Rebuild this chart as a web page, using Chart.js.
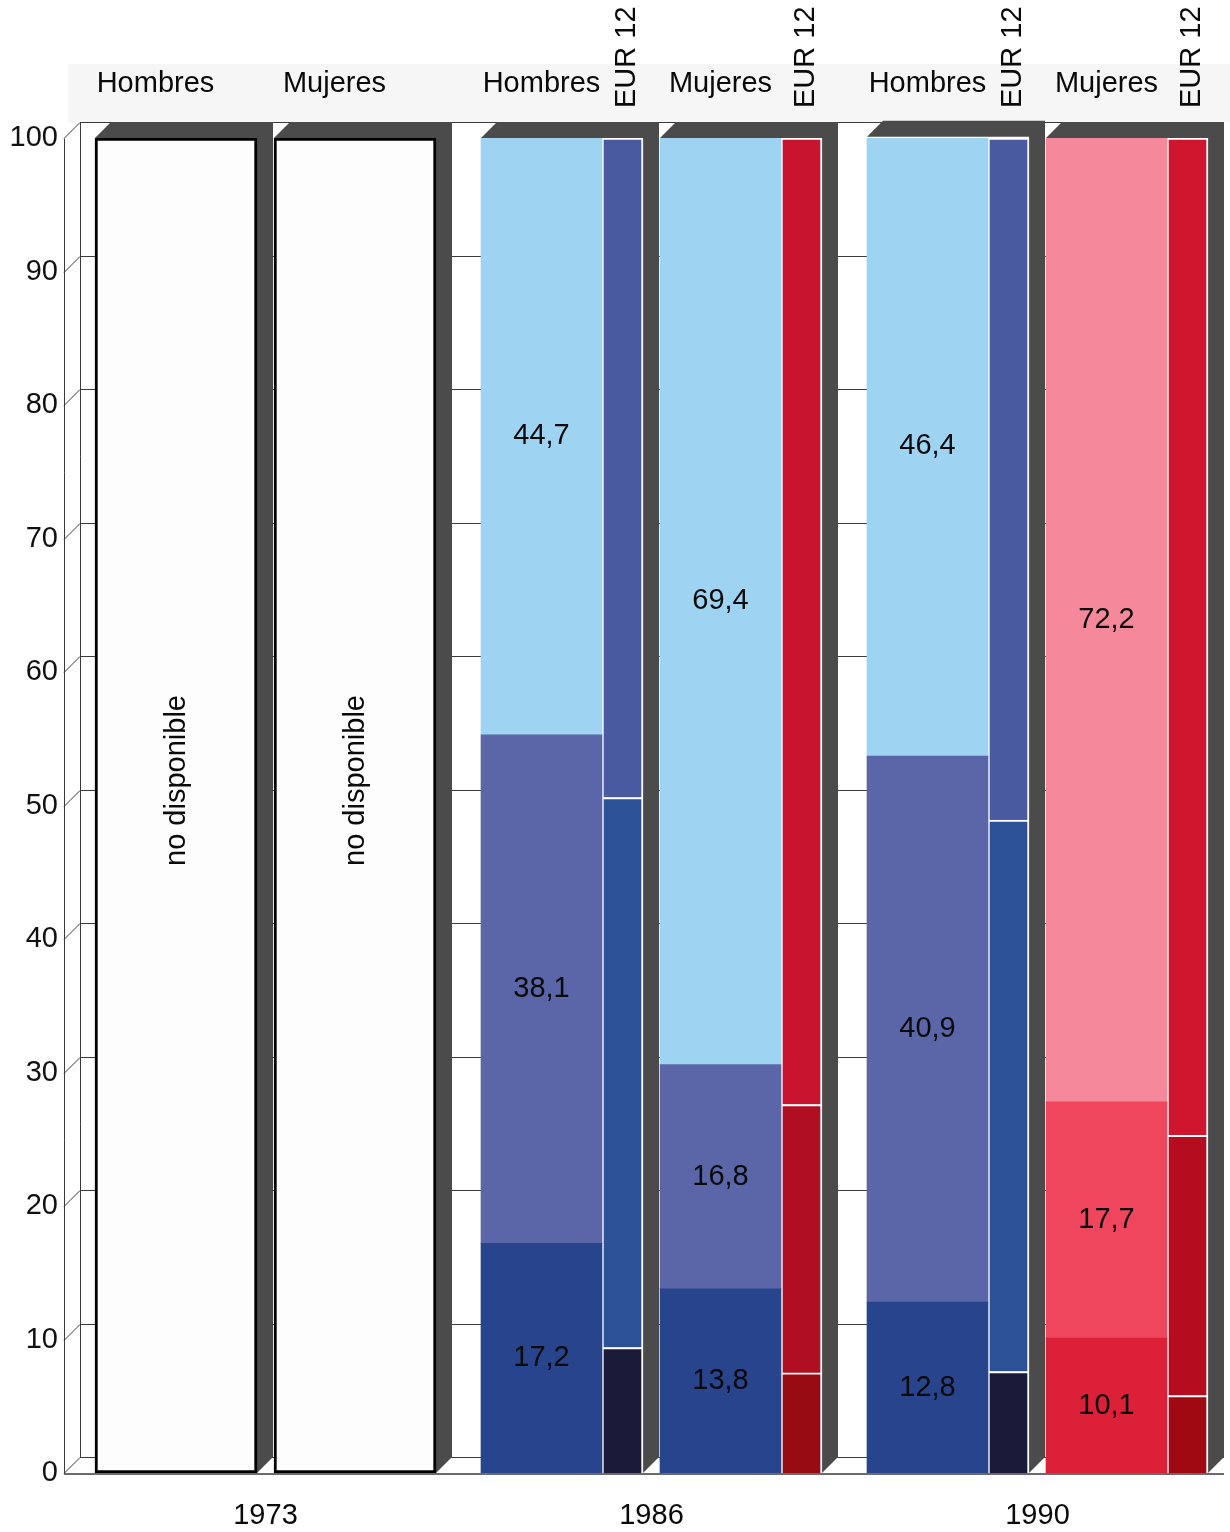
<!DOCTYPE html>
<html lang="es">
<head>
    <title>Nivel de formación por sexo</title>
    <meta charset="UTF-8">
    <script src="https://cdn.jsdelivr.net/npm/chart.js"></script>
    <style>
        html, body {
            margin: 0;
            padding: 0;
            background: #fff;
        }

        #caja {
            width: 1230px;
            height: 1532px;
        }
    </style>
</head>
<body>
<div id="caja">
    <canvas id="grafico" width="1230" height="1532"></canvas>
</div>
<script>
    // Datos (porcentajes), orden: 1973 H, 1973 M, 1986 H, 1986 M, 1990 H, 1990 M
    const anios = ['1973', '1986', '1990'];
    const grupos = ['Hombres', 'Mujeres', 'Hombres', 'Mujeres', 'Hombres', 'Mujeres'];
    const noDisponible = [100, 100, null, null, null, null];
    const bajo = [null, null, 17.2, 13.8, 12.8, 10.1];
    const medio = [null, null, 38.1, 16.8, 40.9, 17.7];
    const alto = [null, null, 44.7, 69.4, 46.4, 72.2];
    const eurBajo = [null, null, 9.4, 7.5, 7.6, 5.8];
    const eurMedio = [null, null, 41.2, 20.1, 41.3, 19.5];
    const eurAlto = [null, null, 49.4, 72.4, 51.1, 74.7];
    const eurNombre = 'EUR 12';
    const textoNoDisp = 'no disponible';
    const yTicks = [0, 10, 20, 30, 40, 50, 60, 70, 80, 90, 100];

    // Colores
    const cAlto = [null, null, '#9ed3f1', '#9ed3f1', '#9ed3f1', '#f6889b'];
    const cMedio = [null, null, '#5a66a8', '#5a66a8', '#5a66a8', '#f0465d'];
    const cBajo = [null, null, '#28448d', '#28448d', '#28448d', '#db2038'];
    const cEurAlto = [null, null, '#4a5aa0', '#c8142e', '#4a5aa0', '#d0152f'];
    const cEurMedio = [null, null, '#2c5196', '#b00e21', '#2c5196', '#b60c1f'];
    const cEurBajo = [null, null, '#1b1a38', '#990b13', '#1b1a38', '#a00911'];
    const colorSombra = '#4b4b4b';

    // Disposición horizontal (unidades del eje x = px del área)
    const EJE_IZQ = 64;
    const ANCHO_BLOQUE = 162, ANCHO_EUR = 41, FONDO = 16;
    const SEP_PAR = 1, SEP_ANIO = 29, INICIO = 31;
    const ANCHO_PRINC = ANCHO_BLOQUE - ANCHO_EUR;
    const FUENTE = "'Liberation Sans', Arial, sans-serif";

    const izq = [];
    let pos = INICIO;
    for (let i = 0; i < grupos.length; i++) {
        izq.push(pos);
        pos += ANCHO_BLOQUE + FONDO + (i % 2 === 0 ? SEP_PAR : SEP_ANIO);
    }
    const xPrinc = izq.map(l => l + ANCHO_PRINC / 2);
    const xEur = izq.map(l => l + ANCHO_PRINC + ANCHO_EUR / 2);
    const xEntero = izq.map(l => l + ANCHO_BLOQUE / 2);

    const puntos = (xs, vals) => vals.map((v, i) => ({x: xs[i], y: v}));

    function serie(nombre, xs, vals, colores, grosor, stack, extra) {
        return Object.assign({
            label: nombre,
            data: puntos(xs, vals),
            backgroundColor: colores,
            barThickness: grosor,
            stack: stack,
            borderWidth: 0
        }, extra || {});
    }

    const bordeEur = {borderColor: '#ffffff', borderWidth: 2};

    function bloques(chart) {
        const res = [];
        chart.data.datasets.forEach((ds, di) => {
            chart.getDatasetMeta(di).data.forEach((bar, i) => {
                if (ds.data[i].y == null) return;
                const l = bar.x - bar.width / 2, r = bar.x + bar.width / 2;
                const b = res[i] || (res[i] = {l: l, r: r, t: bar.y, b: bar.base});
                b.l = Math.min(b.l, l);
                b.r = Math.max(b.r, r);
                b.t = Math.min(b.t, bar.y);
                b.b = Math.max(b.b, bar.base);
            });
        });
        return res;
    }

    const fondo3d = {
        id: 'fondo3d',
        beforeDatasetsDraw(chart) {
            const {ctx, chartArea: a, scales: {y}} = chart;
            const bl = bloques(chart);
            const fin = bl[bl.length - 1].r + FONDO;
            ctx.save();
            // franja de cabecera
            ctx.fillStyle = '#f6f6f6';
            ctx.fillRect(a.left + 4, a.top - 74, a.right - a.left, 58);

            // pared izquierda y rejilla del fondo
            ctx.strokeStyle = '#3a3a3a';
            ctx.lineWidth = 1;
            yTicks.forEach(v => {
                const py = Math.round(y.getPixelForValue(v)) + 0.5;
                ctx.beginPath();
                ctx.moveTo(a.left, py);
                ctx.lineTo(a.left + FONDO, py - FONDO);
                ctx.lineTo(fin, py - FONDO);
                ctx.stroke();
            });
            const yTop = Math.round(y.getPixelForValue(100)) + 0.5;
            const yBot = Math.round(y.getPixelForValue(0)) + 0.5;
            ctx.beginPath();
            ctx.moveTo(a.left + 0.5, yTop);
            ctx.lineTo(a.left + 0.5, yBot);
            ctx.moveTo(a.left + FONDO + 0.5, yTop - FONDO);
            ctx.lineTo(a.left + FONDO + 0.5, yBot - FONDO);
            ctx.stroke();

            // caras laterales y superiores de cada bloque
            ctx.fillStyle = colorSombra;
            bl.forEach(b => {
                ctx.beginPath();
                ctx.moveTo(b.l, b.t);
                ctx.lineTo(b.l + FONDO, b.t - FONDO);
                ctx.lineTo(b.r + FONDO, b.t - FONDO);
                ctx.lineTo(b.r + FONDO, b.b - FONDO);
                ctx.lineTo(b.r, b.b);
                ctx.lineTo(b.r, b.t);
                ctx.closePath();
                ctx.fill();
            });

            // suelo
            ctx.strokeStyle = '#3a3a3a';
            ctx.lineWidth = 1.5;
            ctx.beginPath();
            ctx.moveTo(a.left, yBot + 0.5);
            ctx.lineTo(fin, yBot + 0.5);
            ctx.stroke();
            ctx.restore();
        },
        afterDatasetsDraw(chart) {
            const {ctx, chartArea: a} = chart;
            const bl = bloques(chart);
            ctx.save();
            ctx.fillStyle = '#0a0a0a';
            ctx.font = '29px ' + FUENTE;
            ctx.textAlign = 'center';
            ctx.textBaseline = 'middle';

            // valores dentro de las barras principales
            [0, 1, 2].forEach(di => {
                const ds = chart.data.datasets[di];
                chart.getDatasetMeta(di).data.forEach((bar, i) => {
                    const v = ds.data[i].y;
                    if (v == null) return;
                    ctx.fillText(v.toFixed(1).replace('.', ','), bar.x, (bar.y + bar.base) / 2);
                });
            });

            // "no disponible"
            const idxND = chart.data.datasets.length - 1;
            chart.getDatasetMeta(idxND).data.forEach((bar, i) => {
                if (chart.data.datasets[idxND].data[i].y == null) return;
                ctx.save();
                ctx.translate(bar.x + 1, (bar.y + bar.base) / 2 - 25);
                ctx.rotate(-Math.PI / 2);
                ctx.fillText(textoNoDisp, 0, 0);
                ctx.restore();
            });

            // cabeceras
            bl.forEach((b, i) => {
                ctx.fillText(grupos[i], b.l + ANCHO_PRINC / 2, a.top - 54);
            });
            const idxEur = 5;
            chart.getDatasetMeta(idxEur).data.forEach((bar, i) => {
                if (chart.data.datasets[idxEur].data[i].y == null) return;
                ctx.save();
                ctx.translate(bar.x + 4, a.top - 30);
                ctx.rotate(-Math.PI / 2);
                ctx.textAlign = 'left';
                ctx.fillText(eurNombre, 0, 0);
                ctx.restore();
            });

            // años
            anios.forEach((anio, k) => {
                const b1 = bl[2 * k], b2 = bl[2 * k + 1];
                ctx.fillText(anio, (b1.l + b2.r) / 2, a.bottom + 43);
            });
            ctx.restore();
        }
    };

    Chart.defaults.font.family = FUENTE;

    new Chart(document.getElementById('grafico').getContext('2d'), {
        type: 'bar',
        data: {
            datasets: [
                serie('bajo', xPrinc, bajo, cBajo, ANCHO_PRINC, 'princ'),
                serie('medio', xPrinc, medio, cMedio, ANCHO_PRINC, 'princ'),
                serie('alto', xPrinc, alto, cAlto, ANCHO_PRINC, 'princ'),
                serie('EUR bajo', xEur, eurBajo, cEurBajo, ANCHO_EUR, 'eur', bordeEur),
                serie('EUR medio', xEur, eurMedio, cEurMedio, ANCHO_EUR, 'eur', bordeEur),
                serie('EUR alto', xEur, eurAlto, cEurAlto, ANCHO_EUR, 'eur', bordeEur),
                serie('no disponible', xEntero, noDisponible, '#fdfdfd', ANCHO_BLOQUE, 'nd',
                    {borderColor: '#000', borderWidth: 3, borderSkipped: false})
            ]
        },
        options: {
            responsive: false,
            animation: false,
            devicePixelRatio: 1,
            grouped: false,
            layout: {padding: {top: 138, bottom: 59, left: 0, right: 0}},
            plugins: {
                legend: {display: false},
                tooltip: {enabled: false}
            },
            scales: {
                x: {
                    type: 'linear',
                    display: false,
                    offset: false,
                    grid: {offset: false},
                    min: 0,
                    max: 1230 - EJE_IZQ
                },
                y: {
                    stacked: true,
                    min: 0,
                    max: 100,
                    afterFit(scale) {
                        scale.width = EJE_IZQ;
                    },
                    grid: {display: false, drawTicks: false},
                    border: {display: false},
                    ticks: {
                        stepSize: 10,
                        padding: 6,
                        color: '#111',
                        font: {size: 29}
                    }
                }
            }
        },
        plugins: [fondo3d]
    });
</script>
</body>
</html>
